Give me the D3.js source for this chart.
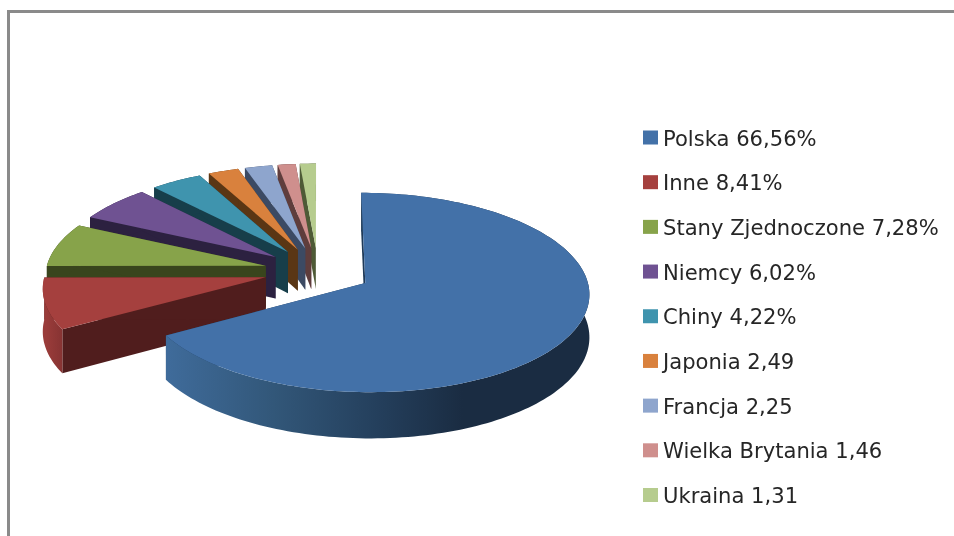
<!DOCTYPE html>
<html lang="pl">
<head>
    <meta charset="UTF-8">
    <script src="https://d3js.org/d3.v7.min.js"></script>
    <style>
        body { margin: 0; background: #fff; }
        svg { display: block; filter: blur(0.4px); }
    </style>
</head>
<body>
    <script type="text/javascript">

    let categories = ["Polska", "Inne", "Stany Zjednoczone", "Niemcy", "Chiny", "Japonia", "Francja", "Wielka Brytania", "Ukraina"];
    let values = [66.56, 8.41, 7.28, 6.02, 4.22, 2.49, 2.25, 1.46, 1.31];
    let valueLabels = ["66,56%", "8,41%", "7,28%", "6,02%", "4,22%", "2,49", "2,25", "1,46", "1,31"];
    let topColors = ["#4371a8", "#a5403e", "#87a34a", "#6f5292", "#3f94ae", "#d9813d", "#8ea5cd", "#cf8f8d", "#b6cc8e"];
    let wallColors = ["#1f3a58", "#501d1d", "#39451d", "#2c2140", "#173e4a", "#5a3614", "#3c4a63", "#5f3d3c", "#4e5a36"];

    let width = 954, height = 536;

    let svg = d3.select("body").append("svg")
        .attr("width", width)
        .attr("height", height);

    // frame
    svg.append("path")
        .attr("d", "M8.5,536V11.5H954")
        .attr("fill", "none")
        .attr("stroke", "#8a8a8a")
        .attr("stroke-width", 3);

    // ground plane -> screen, with a bit of perspective
    let originX = 318, originY = 271;
    let radius = 220, foreshort = 96.5, persp = 0.095, explode = 0.245;
    let depth = 42;

    function project(u, v) {
        let p = 1 / (1 - persp * v);
        return [originX + radius * u * p, originY + foreshort * v * p];
    }
    function wallHeight(v) { return depth * (1 + 0.09 * v); }

    let pie = d3.pie().sort(null)(values);
    let line = d3.line();

    let slices = pie.map(function (d, i) {
        let mid = (d.startAngle + d.endAngle) / 2;
        let ax = explode * Math.sin(mid), ay = -explode * Math.cos(mid);
        let n = Math.max(4, Math.ceil((d.endAngle - d.startAngle) * 40));
        let arc = d3.range(n + 1).map(function (k) {
            let t = d.startAngle + (d.endAngle - d.startAngle) * k / n;
            return { u: ax + Math.sin(t), v: ay - Math.cos(t) };
        });
        return { i: i, d: d, apex: { u: ax, v: ay }, arc: arc };
    });

    function upper(q) { return project(q.u, q.v); }
    function lower(q) {
        let s = project(q.u, q.v);
        return [s[0], s[1] + wallHeight(q.v)];
    }

    // outer wall gradients, running left to right
    let defs = svg.append("defs");
    let polskaWall = defs.append("linearGradient").attr("id", "wall0")
        .attr("gradientUnits", "userSpaceOnUse")
        .attr("x1", 168).attr("x2", 589).attr("y1", 0).attr("y2", 0);
    [[0, "#3f6b9a"], [0.25, "#325779"], [0.5, "#243f5c"], [0.7, "#1a2c42"], [1, "#1a2c42"]].forEach(function (s) {
        polskaWall.append("stop").attr("offset", s[0]).attr("stop-color", s[1]);
    });
    let inneWall = defs.append("linearGradient").attr("id", "wall1")
        .attr("gradientUnits", "userSpaceOnUse")
        .attr("x1", 46).attr("x2", 68).attr("y1", 0).attr("y2", 0);
    inneWall.append("stop").attr("offset", 0).attr("stop-color", "#9a3c3a");
    inneWall.append("stop").attr("offset", 1).attr("stop-color", "#803030");

    // painted back to front: last slice first, big slice on top
    let order = slices.slice().reverse();
    let g = svg.selectAll(".slice").data(order).join("g").attr("class", "slice");

    // radial side walls
    g.each(function (s) {
        let sel = d3.select(this);
        [s.arc[0], s.arc[s.arc.length - 1]].forEach(function (q) {
            sel.append("path")
                .attr("d", line([upper(s.apex), upper(q), lower(q), lower(s.apex)]) + "Z")
                .attr("fill", wallColors[s.i]);
        });
        // outer wall
        let outerTop = s.arc.map(upper);
        let outerBottom = s.arc.map(lower).reverse();
        sel.append("path")
            .attr("d", line(outerTop.concat(outerBottom)) + "Z")
            .attr("fill", s.i < 2 ? "url(#wall" + s.i + ")" : wallColors[s.i]);
        // top face
        sel.append("path")
            .attr("d", line([upper(s.apex)].concat(outerTop)) + "Z")
            .attr("fill", topColors[s.i]);
    });

    // legend
    let legendY = d3.scalePoint().domain(categories).range([137.5, 495]);
    let legend = svg.selectAll(".legend").data(categories).join("g")
        .attr("class", "legend")
        .attr("transform", function (d) { return "translate(643," + legendY(d) + ")"; });

    legend.append("rect")
        .attr("x", 0).attr("y", -7)
        .attr("width", 15).attr("height", 14)
        .attr("fill", function (d, i) { return topColors[i]; });

    legend.append("text")
        .attr("x", 20).attr("y", 8)
        .attr("font-family", "'DejaVu Sans', sans-serif")
        .attr("font-size", 21.1)
        .attr("fill", "#262626")
        .text(function (d, i) { return d + " " + valueLabels[i]; });
    </script>
</body>
</html>
